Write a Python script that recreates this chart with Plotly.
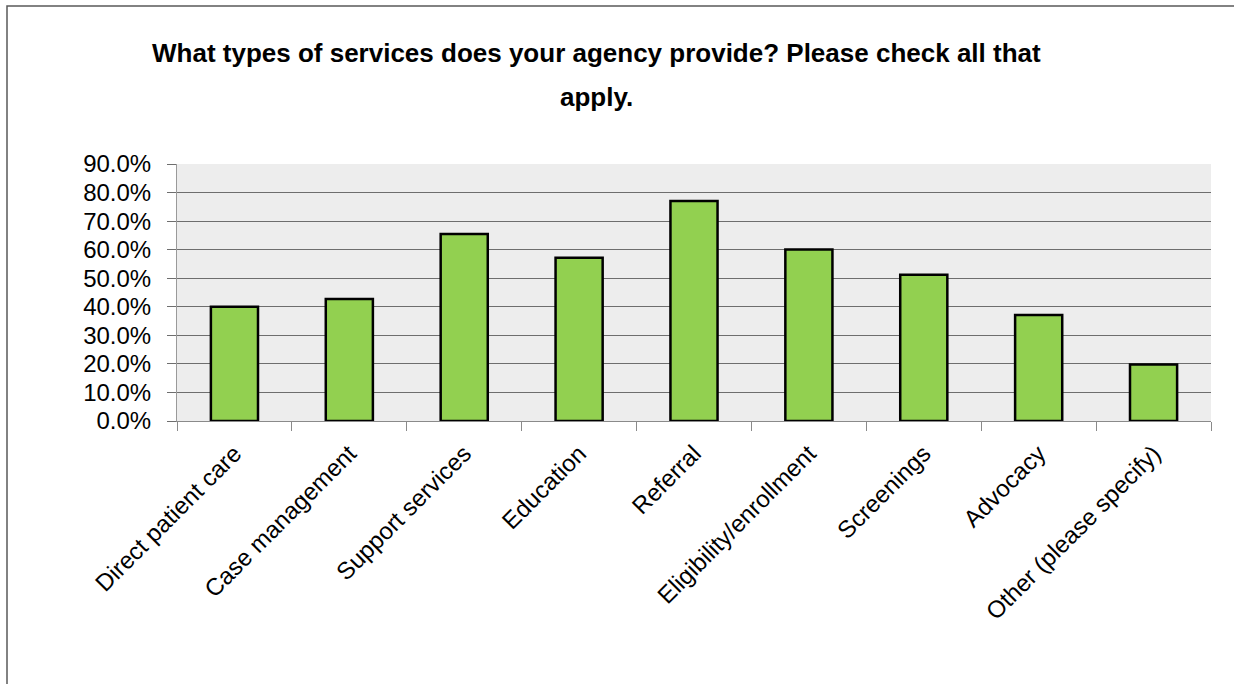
import plotly.graph_objects as go

categories = [
    "Direct patient care",
    "Case management",
    "Support services",
    "Education",
    "Referral",
    "Eligibility/enrollment",
    "Screenings",
    "Advocacy",
    "Other (please specify)",
]
percent_values = [40.0, 42.7, 65.5, 57.2, 77.0, 60.1, 51.2, 37.1, 19.8]
y_tick_values = [0, 10, 20, 30, 40, 50, 60, 70, 80, 90]
y_tick_labels = [f"{v:.1f}%" for v in y_tick_values]

title_lines = [
    "What types of services does your agency provide? Please check all that",
    "apply.",
]

FONT = "Liberation Sans, Arial, sans-serif"

fig = go.Figure(
    go.Bar(
        x=categories,
        y=percent_values,
        marker=dict(color="#92D050", line=dict(color="#000000", width=2.5)),
        width=0.41,
        hoverinfo="x+y",
    )
)

fig.update_layout(
    width=1234,
    height=684,
    margin=dict(l=177, r=23, t=164, b=263),
    paper_bgcolor="#FFFFFF",
    plot_bgcolor="#EDEDED",
    showlegend=False,
    font=dict(family=FONT, color="#000000"),
)

fig.update_yaxes(
    range=[0, 90],
    tickvals=y_tick_values,
    ticktext=y_tick_labels,
    tickfont=dict(size=24, family=FONT),
    showgrid=True,
    gridcolor="#6E6E6E",
    gridwidth=1,
    ticks="outside",
    ticklen=9,
    tickcolor="#6E6E6E",
    showline=True,
    linecolor="#9A9A9A",
    linewidth=1,
    zeroline=False,
    ticklabelstandoff=11,
)

fig.update_xaxes(
    tickangle=-45,
    tickfont=dict(size=24, family=FONT),
    tickson="boundaries",
    ticks="outside",
    ticklen=9,
    tickcolor="#8A8A8A",
    showline=True,
    linecolor="#8A8A8A",
    linewidth=1,
    showgrid=False,
    ticklabelstandoff=8,
)

# Two-line bold heading above the plot area
for text, y_px in zip(title_lines, [53, 97]):
    fig.add_annotation(
        text=f"<b>{text}</b>",
        xref="paper",
        yref="paper",
        x=(596 - 177) / 1034,
        y=(421 - y_px) / 257,
        xanchor="center",
        yanchor="middle",
        showarrow=False,
        font=dict(size=26, family=FONT, color="#000000"),
    )

# Outer chart frame
fig.add_shape(
    type="rect",
    xref="paper",
    yref="paper",
    x0=(7 - 177) / 1034,
    x1=(1240 - 177) / 1034,
    y0=(421 - 690) / 257,
    y1=(421 - 6) / 257,
    line=dict(color="#595959", width=1.5),
    fillcolor="rgba(0,0,0,0)",
    layer="below",
)

fig.write_html("out.html")
